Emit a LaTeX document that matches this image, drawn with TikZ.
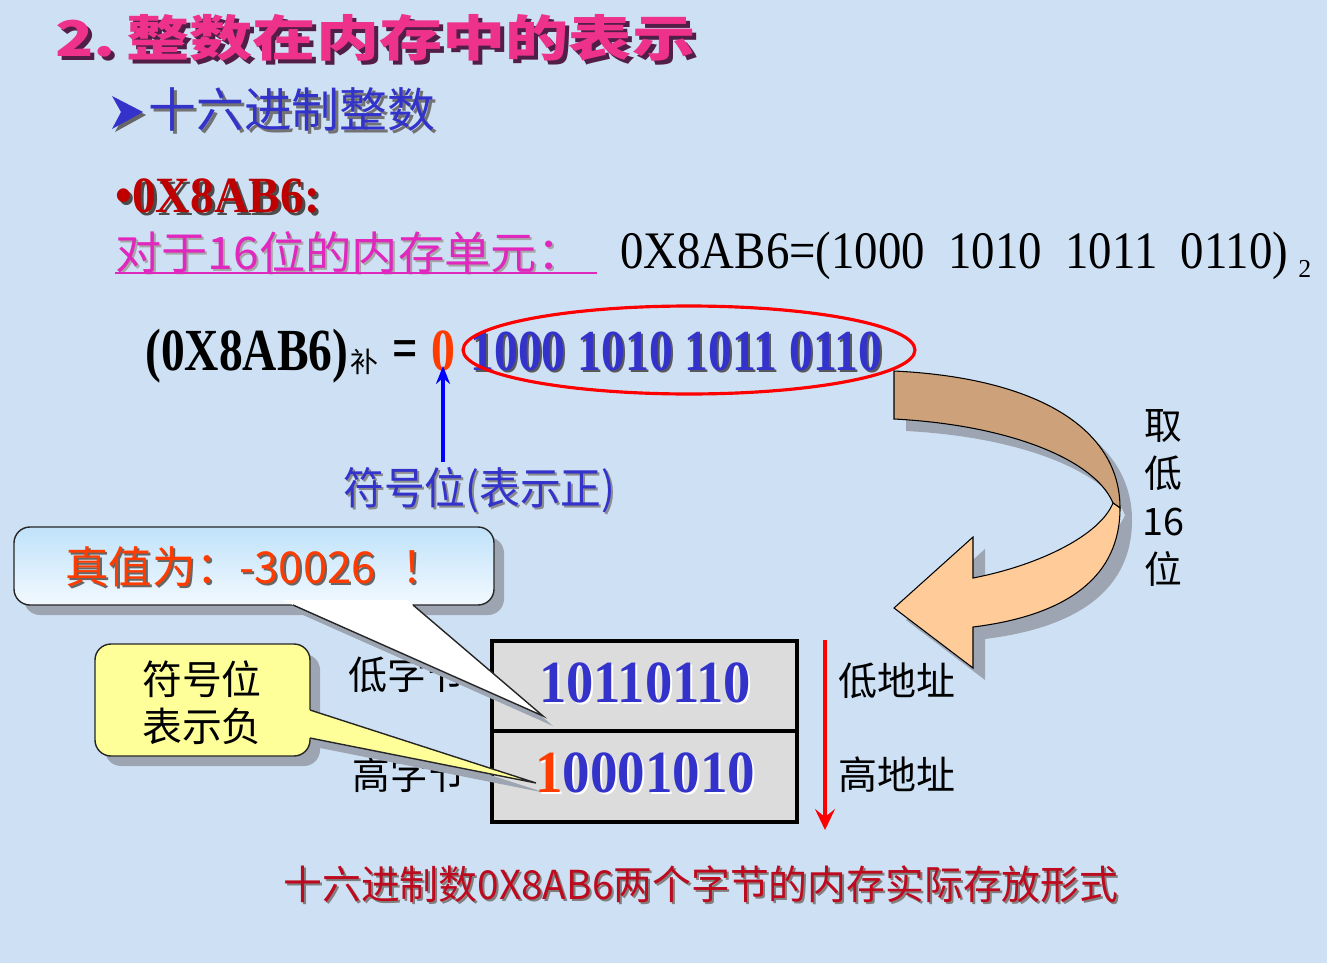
\documentclass[tikz,border=0pt]{standalone}
\usepackage{fontspec}
\usepackage{graphicx}
\setmainfont{Liberation Serif}
\newfontfamily\cjk{Noto Sans CJK SC}
\usetikzlibrary{calc,arrows.meta}

% 1 unit of the drawing grid
\newdimen\px \px=0.02cm
\newcommand\fitw[2]{\resizebox{#1\px}{\height}{#2}}
\newcommand\fs[1]{\fontsize{#1}{#1}\selectfont}

\definecolor{bgblue}{RGB}{206,225,244}
\definecolor{titlepink}{RGB}{238,50,140}
\definecolor{titleshadow}{RGB}{80,30,70}
\definecolor{navy}{RGB}{51,51,204}
\definecolor{darkred}{RGB}{190,0,0}
\definecolor{magentaline}{RGB}{225,40,190}
\definecolor{signred}{RGB}{255,60,0}
\definecolor{shadowgray}{RGB}{158,165,178}
\definecolor{ribbonbrown}{RGB}{205,162,122}
\definecolor{ribbonpeach}{RGB}{255,204,153}
\definecolor{callblue}{RGB}{192,226,250}
\definecolor{callpale}{RGB}{242,249,255}
\definecolor{callyellow}{RGB}{255,255,153}
\definecolor{cellgray}{RGB}{220,220,220}
\definecolor{captionred}{RGB}{190,10,30}

% text with a drop shadow: name, position, offset, shadow colour, options, text
\newcommand\shtext[6]{%
  \node[inner sep=0,#5,text=#4] (#1-shadow) at ($(#2)+(#3,#3)$) {#6};
  \node[inner sep=0,#5] (#1) at (#2) {#6};}

% the twisted ribbon arrow
\def\ribbonback{(894,371) .. controls (1040,378) and (1120,430) .. (1120,508)
  -- (1113,503) .. controls (1095,460) and (1010,425) .. (894,419) -- cycle}
\def\ribbonfront{(1113,503) -- (1120,508) .. controls (1120,575) and (1070,615) .. (973,627)
  -- (973,668) -- (894,608) -- (973,537) -- (973,578)
  .. controls (1040,565) and (1100,535) .. (1113,503) -- cycle}

\tikzset{
  cell/.style={draw=black, line width=2.2pt, fill=cellgray,
    minimum width=6.1cm, minimum height=1.81cm, inner sep=0},
  lbl/.style={inner sep=0, font=\cjk\fs{22.1}, text=black},
  callout/.style={draw=black!85, line width=0.8pt},
}

\begin{document}
\begin{tikzpicture}[x=0.02cm,y=-0.02cm]
\fill[bgblue] (0,0) rectangle (1327,963);
\useasboundingbox (0,0) rectangle (1327,963);

% heading
\shtext{title}{55,38}{4}{titleshadow}{anchor=west,text=titlepink,font=\cjk\bfseries\fs{28}}{\fitw{640}{2.\,整数在内存中的表示}}

% sub-heading with arrow bullet
\fill[black!60] (115,99) -- (146,115) -- (115,132) -- (124,115) -- cycle;
\fill[navy] (112,96) -- (143,112) -- (112,129) -- (121,112) -- cycle;
\shtext{sub}{148,110}{3}{black!55}{anchor=west,text=navy,font=\cjk\fs{27}}{\fitw{287}{十六进制整数}}

% 0X8AB6 item
\shtext{hex}{115,212}{3}{black!70}{anchor=base west,text=darkred,font=\bfseries\fs{28.9}}{\fitw{205}{•0X8AB6:}}

\shtext{unit}{115,252}{2}{black!35}{anchor=west,text=magentaline,font=\cjk\fs{25.5}}{\fitw{468}{对于16位的内存单元：}}
\coordinate (ulstart) at (115,273);
\coordinate (ulend) at (597,273);
\draw[magentaline, line width=1.7pt] (ulstart) -- (ulend);

\node[anchor=base west, inner sep=0, font=\fs{30}] (bin) at (620,268)
  {\fitw{668}{0X8AB6=(1000\hspace{0.5em}1010\hspace{0.5em}1011\hspace{0.5em}0110)}};
\node[anchor=base west, inner sep=0, font=\fs{14.7}] (binsub) at (1298,277) {2};

% two's complement line
\node[anchor=base west, inner sep=0, font=\bfseries\fs{34}] (comp) at (145,370) {\fitw{203}{(0X8AB6)}};
\node[inner sep=0, font=\cjk\fs{15.9}] (bu) at (364,362) {补};
\node[anchor=base, inner sep=0, font=\bfseries\fs{34}] (eq) at (405,368) {\scalebox{0.75}[1]{=}};
\node[anchor=base, inner sep=0, text=signred, font=\bfseries\fs{34}] (zero) at (443,370) {\scalebox{0.8}[1]{0}};
\shtext{bits}{470,370}{2}{black!65}{anchor=base west,text=navy,font=\bfseries\fs{33}}{\fitw{412}{1000 1010 1011 0110}}
\draw[red, line width=1.8pt] (689,350) ellipse [x radius=4.52cm, y radius=0.88cm];

% sign bit pointer
\coordinate (signtail) at (443,462);
\draw[blue, line width=1.9pt, shorten >=-0.1cm, -{Stealth[length=0.36cm, width=0.28cm]}] (signtail) -- (zero.south);
\shtext{signlbl}{343,490}{2}{black!45}{anchor=west,text=navy,font=\cjk\fs{25}}{\fitw{272}{符号位(表示正)}}

% ribbon arrow
\fill[shadowgray, shift={(12,12)}] \ribbonback;
\fill[shadowgray, shift={(12,12)}] \ribbonfront;
\filldraw[fill=ribbonbrown, draw=black, line width=0.6pt] \ribbonback;
\filldraw[fill=ribbonpeach, draw=black, line width=0.6pt] \ribbonfront;
\node[inner sep=0, align=center, font=\cjk\fontsize{21.5}{27.2}\selectfont] (take) at (1163,498) {取\\低\\16\\位};

% memory cells
\node[cell] (lo) at (644.5,686) {};
\node[cell] (hi) at (644.5,776.5) {};
\node[lbl, anchor=west] (lobyte) at (348,675) {\fitw{117}{低字节}};
\node[lbl, anchor=west] (hibyte) at (352,775) {\fitw{113}{高字节}};
\node[lbl, anchor=west] (loaddr) at (838,681) {\fitw{117}{低地址}};
\node[lbl, anchor=west] (hiaddr) at (838,775) {\fitw{117}{高地址}};
\coordinate (addrtop) at (825,640);
\coordinate (addrbot) at (825,830);
\draw[red, line width=1.8pt, -{Stealth[length=0.42cm, width=0.4cm, inset=0.16cm]}] (addrtop) -- (addrbot);

% callout: true value
\fill[shadowgray, rounded corners=0.32cm] (24,537) rectangle (504,615);
\fill[shadowgray] (303,615) -- (553,726) -- (423,615) -- cycle;
\shade[callout, top color=callblue, bottom color=callpale, rounded corners=0.32cm] (14,527) rectangle (494,605);
\fill[white] (282,600) -- (543,716) -- (407,600) -- cycle;
\draw[callout, line join=miter] (293,605) -- (543,716) -- (413,605);
\shtext{truth}{65,567}{2}{black!60}{anchor=west,text=signred,font=\cjk\fs{25}}{\fitw{380}{真值为：-30026\hspace{0.6em}！}}

% callout: sign bit negative
\fill[shadowgray, rounded corners=0.32cm] (105,654) rectangle (320,766);
\fill[shadowgray] (320,720) -- (546,793) -- (320,748) -- cycle;
\filldraw[callout, fill=callyellow, rounded corners=0.32cm] (95,644) rectangle (310,756);
\fill[callyellow] (305,708.4) -- (536,783) -- (305,737) -- cycle;
\draw[callout, line join=miter] (310,710) -- (536,783) -- (310,738);
\node[inner sep=0, align=center, font=\cjk\fontsize{22.7}{26.6}\selectfont] (neg) at (202,703) {符号位\\表示负};

% stored bytes
\shtext{lotext}{645,702}{2}{white}{anchor=base,text=navy,font=\bfseries\fs{34}}{\fitw{212}{10110110}}
\node[anchor=base, inner sep=0, text=white, font=\bfseries\fs{34}] (hitext-shadow) at (647,794) {\fitw{220}{10001010}};
\node[anchor=base, inner sep=0, text=navy, font=\bfseries\fs{34}] (hitext) at (645,792) {\fitw{220}{\textcolor{signred}{1}0001010}};

% caption
\shtext{caption}{283,884}{2}{black!50}{anchor=west,text=captionred,font=\cjk\fs{22.7}}{\fitw{835}{十六进制数0X8AB6两个字节的内存实际存放形式}}
\end{tikzpicture}
\end{document}
